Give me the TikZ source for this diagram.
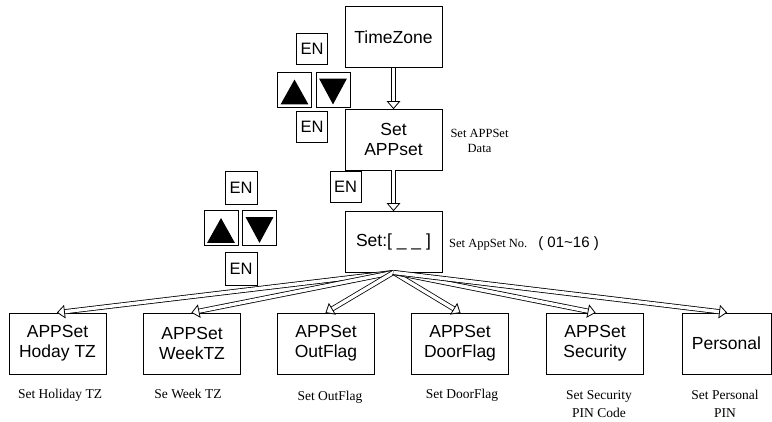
\documentclass[tikz,border=0pt]{standalone}
\usepackage{fontspec}
\setmainfont{Liberation Serif}
\setsansfont{Liberation Sans}
\usetikzlibrary{calc}
\tikzset{
  bigbox/.style={draw, line width=0.9pt, minimum width=97pt, minimum height=61pt, inner sep=0pt, align=center, font=\sffamily\fontsize{17.5}{20}\selectfont},
  keybox/.style={draw, line width=0.9pt, minimum width=31pt, minimum height=31pt, inner sep=0pt, font=\sffamily\fontsize{16.5}{18}\selectfont},
  tribox/.style={draw, line width=0.9pt, minimum width=34pt, minimum height=35pt, inner sep=0pt},
  note/.style={font=\fontsize{13.5}{18}\selectfont, align=center, inner sep=0pt},
  smallnote/.style={font=\fontsize{12.5}{15}\selectfont, align=center, inner sep=0pt},
  shaft/.style={draw, line width=0.8pt, double, double distance=3.4pt},
  headtip/.style={draw, line width=0.8pt, fill=white, line join=miter},
}
\newcommand\hollowarrow[2]{%
  \path ($(#2)!7pt!(#1)$) coordinate (hb);
  \draw[shaft] (#1) -- (hb);
  \draw[headtip] (#2) -- ($(hb)!6pt!90:(#2)$) -- ($(hb)!6pt!-90:(#2)$) -- cycle;
}
\newcommand\upkey[1]{%
  \fill ($(#1.south west)+(3.5,-3)$) -- ($(#1.south east)+(-3.5,-3)$) -- ($(#1.north)+(0,8)$) -- cycle;
}
\newcommand\downkey[1]{%
  \fill ($(#1.north west)+(3.5,7)$) -- ($(#1.north east)+(-3.5,7)$) -- ($(#1.south)+(0,-3)$) -- cycle;
}
\begin{document}
\begin{tikzpicture}[x=1pt,y=-1pt]
\useasboundingbox (0,0) rectangle (772,421);

% main column
\node[bigbox] (tz)  at (393.5,37)  {TimeZone};
\node[bigbox] (app) at (393.5,139.5) {Set\\APPset};
\node[bigbox] (set) at (393.5,241.5) {Set:[ \_ \_ ]};

% key group A
\node[keybox] (en1) at (312,48.5) {EN};
\node[tribox] (up1) at (294.5,89.5) {};
\node[tribox] (dn1) at (333,89.5) {};
\node[keybox] (en2) at (312,126.5) {EN};
\upkey{up1}
\downkey{dn1}

% key B
\node[keybox] (en3) at (345.5,187) {EN};

% key group C
\node[keybox, minimum width=32pt, minimum height=33pt] (en4) at (241,187.5) {EN};
\node[tribox] (up2) at (221,228) {};
\node[tribox] (dn2) at (259.5,228) {};
\node[keybox, minimum width=32pt, minimum height=33pt] (en5) at (241,269) {EN};
\upkey{up2}
\downkey{dn2}

% side notes
\node[smallnote, anchor=north] (n1) at (479.5,129) {Set APPSet\\Data};
\node[anchor=base west, inner sep=0pt] (n2) at (449,247)
  {\fontsize{12.5}{15}\selectfont Set AppSet No.\hspace{11pt}{\sffamily\fontsize{15}{18}\selectfont( 01\textasciitilde16 )}};

% bottom boxes
\node[bigbox] (b1) at (57.5,343.5) {APPSet\\Hoday TZ};
\node[bigbox] (b2) at (192,343.5)  {APPSet\\WeekTZ};
\node[bigbox] (b3) at (326,343.5)  {APPSet\\OutFlag};
\node[bigbox] (b4) at (460,343.5)  {APPSet\\DoorFlag};
\node[bigbox] (b5) at (595,343.5)  {APPSet\\Security};
\node[bigbox, minimum width=89pt] (b6) at (726.5,343.5) {Personal};

% bottom notes
\node[note, anchor=base] (l1) at (60,398)  {Set Holiday TZ};
\node[note, anchor=base] (l2) at (188,398) {Se Week TZ};
\node[note, anchor=base] (l3) at (330,400) {Set OutFlag};
\node[note, anchor=base] (l4) at (462,398) {Set DoorFlag};
\node[note, anchor=north] (l5) at (599,390) {Set Security\\PIN Code};
\node[note, anchor=north] (l6) at (725,390) {Set Personal\\PIN};

% connectors
\hollowarrow{tz.south}{app.north}
\hollowarrow{app.south}{set.north}
\hollowarrow{set.south}{b1.north}
\hollowarrow{set.south}{b2.north}
\hollowarrow{set.south}{b3.north}
\hollowarrow{set.south}{b4.north}
\hollowarrow{set.south}{b5.north}
\hollowarrow{set.south}{b6.north}
\end{tikzpicture}
\end{document}
